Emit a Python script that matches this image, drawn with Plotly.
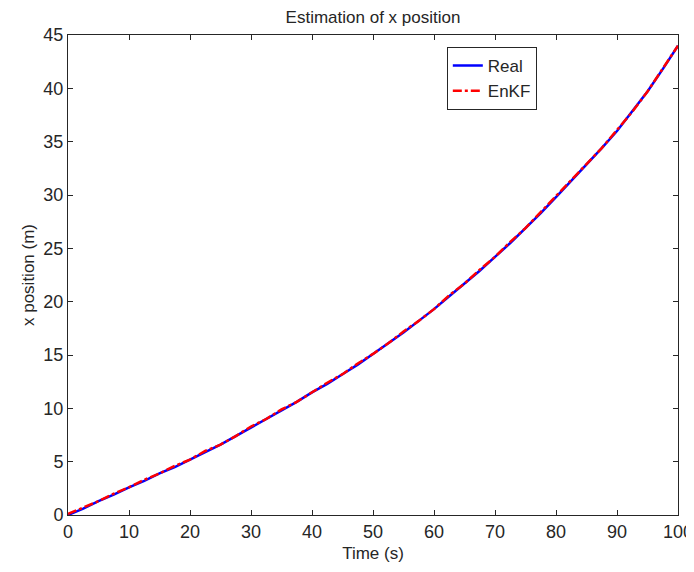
import plotly.graph_objects as go

time_s = [0, 2.5, 5, 7.5, 10, 12.5, 15, 17.5, 20, 22.5, 25, 27.5, 30, 32.5, 35, 37.5,
          40, 42.5, 45, 47.5, 50, 52.5, 55, 57.5, 60, 62.5, 65, 67.5, 70, 72.5, 75,
          77.5, 80, 82.5, 85, 87.5, 90, 92.5, 95, 97.5, 100]
real_x = [0.0, 0.6, 1.3, 1.9, 2.6, 3.2, 3.9, 4.5, 5.2, 5.9, 6.6, 7.4, 8.2, 9.0, 9.8,
          10.6, 11.5, 12.3, 13.2, 14.1, 15.1, 16.1, 17.1, 18.2, 19.3, 20.5, 21.7,
          22.9, 24.2, 25.5, 26.9, 28.3, 29.8, 31.3, 32.8, 34.4, 36.0, 37.8, 39.7,
          41.8, 44.0]
enkf_x = [0.1, 0.7, 1.3, 2.0, 2.6, 3.3, 3.9, 4.6, 5.2, 6.0, 6.6, 7.4, 8.3, 9.0, 9.9,
          10.6, 11.5, 12.4, 13.2, 14.2, 15.1, 16.1, 17.2, 18.2, 19.3, 20.6, 21.7,
          23.0, 24.2, 25.6, 26.9, 28.4, 29.8, 31.3, 32.9, 34.4, 36.1, 37.8, 39.7,
          41.9, 44.0]
x_ticks = [0, 10, 20, 30, 40, 50, 60, 70, 80, 90, 100]
y_ticks = [0, 5, 10, 15, 20, 25, 30, 35, 40, 45]

font = "Liberation Sans, Arial, sans-serif"
axcol = "#262626"

# the page body has an 8px default margin, so the figure is sized to fit the window
W, H = 686, 564

fig = go.Figure()
fig.add_trace(go.Scatter(x=time_s, y=real_x, mode="lines", name="Real",
                         line=dict(color="#0000ff", width=2.5)))
fig.add_trace(go.Scatter(x=time_s, y=enkf_x, mode="lines", name="EnKF",
                         line=dict(color="#ff0000", width=2.5, dash="dashdot")))

axis_common = dict(showgrid=False, zeroline=False, showline=True, linecolor=axcol,
                   linewidth=1, mirror="ticks", ticks="inside", ticklen=5,
                   automargin=False, ticklabeloverflow="allow",
                   tickcolor=axcol, tickfont=dict(family=font, size=18, color=axcol))

fig.update_layout(
    width=W, height=H,
    margin=dict(l=60, r=16, t=27, b=57),
    paper_bgcolor="white", plot_bgcolor="white",
    title=dict(text="Estimation of x position", x=0.5, xanchor="center",
               xref="paper", y=1 - 9.5 / H, yanchor="middle",
               font=dict(family=font, size=17, color=axcol)),
    xaxis=dict(range=[0, 100], tickvals=x_ticks,
               title=dict(text="Time (s)", standoff=6,
                          font=dict(family=font, size=17, color=axcol)),
               **axis_common),
    yaxis=dict(range=[0, 45], tickvals=y_ticks,
               title=dict(text="x position (m)", standoff=4,
                          font=dict(family=font, size=17, color=axcol)),
               **axis_common),
    legend=dict(x=0.621, y=0.975, xanchor="left", yanchor="top",
                bordercolor=axcol, borderwidth=1, bgcolor="white",
                font=dict(family=font, size=17, color=axcol),
                entrywidth=120, entrywidthmode="pixels",
                tracegroupgap=2),
    showlegend=True,
)

fig.write_html("out.html")
